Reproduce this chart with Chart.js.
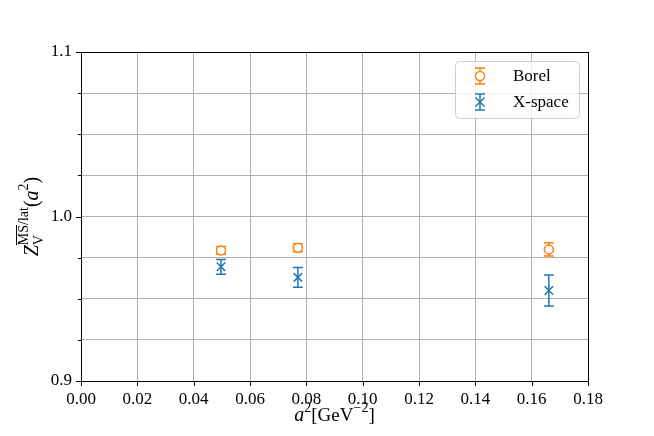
<!DOCTYPE html>
<html>
<head>
<meta charset="utf-8">
<script src="https://cdn.jsdelivr.net/npm/chart.js@4/dist/chart.umd.min.js"></script>
<style>
  html, body { margin: 0; padding: 0; background: #fff; }
</style>
</head>
<body>
<canvas id="myChart" width="654" height="436"></canvas>
<script>
// values
const a2 = [0.0497, 0.077, 0.1661];
const borel = [0.9794, 0.9810, 0.9800];
const borelErr = [0.0024, 0.0024, 0.0040];
const xspace = [0.9694, 0.9630, 0.9550];
const xspaceErr = [0.0045, 0.0060, 0.0094];
const seriesNames = ['Borel', 'X-space'];

const xTicks = [0, 0.02, 0.04, 0.06, 0.08, 0.10, 0.12, 0.14, 0.16, 0.18];
const yTicks = [0.9, 0.925, 0.95, 0.975, 1.0, 1.025, 1.05, 1.075, 1.1];
const yMajor = [0.9, 1.0, 1.1];

const orange = '#ff7f0e';
const blue = '#1f77b4';
const serif = "'Liberation Serif', 'DejaVu Serif', serif";

function isMajor(v) {
    return yMajor.some(m => Math.abs(m - v) < 1e-9);
}

// error bars, drawn under the markers
const errorBars = {
    id: 'errorBars',
    beforeDatasetsDraw(chart) {
        const ctx = chart.ctx;
        const xs = chart.scales.x, ys = chart.scales.y;
        chart.data.datasets.forEach(ds => {
            ctx.save();
            ctx.strokeStyle = ds.borderColor;
            ctx.lineWidth = 1.5;
            ds.data.forEach((p, i) => {
                const px = xs.getPixelForValue(p.x);
                const top = ys.getPixelForValue(p.y + ds.errors[i]);
                const bot = ys.getPixelForValue(p.y - ds.errors[i]);
                ctx.beginPath();
                ctx.moveTo(px, top); ctx.lineTo(px, bot);
                ctx.moveTo(px - 5, top); ctx.lineTo(px + 5, top);
                ctx.moveTo(px - 5, bot); ctx.lineTo(px + 5, bot);
                ctx.stroke();
            });
            ctx.restore();
        });
    }
};

function textW(ctx, t, f) { ctx.font = f; return ctx.measureText(t).width; }

const decorations = {
    id: 'decorations',
    afterDraw(chart) {
        const ctx = chart.ctx;
        const area = chart.chartArea;
        const xs = chart.scales.x, ys = chart.scales.y;
        ctx.save();
        ctx.strokeStyle = '#000';
        ctx.lineWidth = 1;
        ctx.strokeRect(Math.round(area.left) + 0.5, Math.round(area.top) + 0.5,
            Math.round(area.right - area.left), Math.round(area.bottom - area.top));
        ctx.beginPath();
        xTicks.forEach(v => {
            const px = Math.round(xs.getPixelForValue(v)) + 0.5;
            ctx.moveTo(px, area.bottom); ctx.lineTo(px, area.bottom + 5);
        });
        yTicks.forEach(v => {
            const py = Math.round(ys.getPixelForValue(v)) + 0.5;
            const len = isMajor(v) ? 5 : 3;
            ctx.moveTo(area.left, py); ctx.lineTo(area.left - len, py);
        });
        ctx.stroke();

        const big = '20px ' + serif, bigI = 'italic 20px ' + serif;
        const mid = '19px ' + serif, small = '14px ' + serif;
        ctx.fillStyle = '#000';
        ctx.textBaseline = 'alphabetic';
        ctx.textAlign = 'left';

        // x title: a^2 [GeV^-2]
        const xParts = [['a', bigI, 0], ['2', small, -9], ['[GeV', mid, 0], ['\u22122', small, -9], [']', mid, 0]];
        let tot = xParts.reduce((s, p) => s + textW(ctx, p[0], p[1]), 0);
        let cx = (area.left + area.right) / 2 - tot / 2;
        xParts.forEach(p => {
            ctx.font = p[1];
            ctx.fillText(p[0], cx, 421 + p[2]);
            cx += ctx.measureText(p[0]).width;
        });

        // y title (rotated): Z_V^{MS-bar/lat}(a^2)
        ctx.save();
        ctx.translate(38, (area.top + area.bottom) / 2);
        ctx.rotate(-Math.PI / 2);
        const wZ = textW(ctx, 'Z', bigI);
        const wV = textW(ctx, 'V', small);
        const wMS = textW(ctx, 'MS', small);
        const wSup = textW(ctx, 'MS/lat', small);
        const wTail = textW(ctx, '(', big) + textW(ctx, 'a', bigI) + textW(ctx, '2', small) + textW(ctx, ')', big);
        const total = wZ + Math.max(wV, wSup) + wTail;
        let x = -total / 2;
        ctx.font = bigI; ctx.fillText('Z', x, 0); x += wZ;
        ctx.font = small; ctx.fillText('V', x, 5);
        ctx.fillText('MS/lat', x, -10);
        ctx.lineWidth = 1;
        ctx.beginPath();
        ctx.moveTo(x, -21.5); ctx.lineTo(x + wMS, -21.5);
        ctx.stroke();
        x += Math.max(wV, wSup);
        ctx.font = big; ctx.fillText('(', x, 0); x += textW(ctx, '(', big);
        ctx.font = bigI; ctx.fillText('a', x, 0); x += textW(ctx, 'a', bigI);
        ctx.font = small; ctx.fillText('2', x, -10); x += textW(ctx, '2', small);
        ctx.font = big; ctx.fillText(')', x, 0);
        ctx.restore();

        ctx.restore();
    }
};

// custom legend box
const legendBox = {
    id: 'legendBox',
    afterDraw(chart) {
        const ctx = chart.ctx;
        ctx.save();
        const bx = 455, by = 61, bw = 124, bh = 57;
        ctx.fillStyle = 'rgba(255,255,255,0.8)';
        ctx.strokeStyle = '#d0d0d0';
        ctx.lineWidth = 1;
        ctx.beginPath();
        ctx.roundRect(bx + 0.5, by + 0.5, bw, bh, 4);
        ctx.fill();
        ctx.stroke();
        chart.data.datasets.forEach((ds, i) => {
            const cy = 76 + i * 26;
            const mx = 480;
            ctx.strokeStyle = ds.borderColor;
            ctx.lineWidth = 1.5;
            ctx.beginPath();
            ctx.moveTo(mx, cy - 8); ctx.lineTo(mx, cy + 8);
            ctx.moveTo(mx - 5, cy - 8); ctx.lineTo(mx + 5, cy - 8);
            ctx.moveTo(mx - 5, cy + 8); ctx.lineTo(mx + 5, cy + 8);
            ctx.stroke();
            ctx.beginPath();
            if (ds.pointStyle === 'circle') {
                ctx.fillStyle = '#fff';
                ctx.arc(mx, cy, 4.5, 0, Math.PI * 2);
                ctx.fill();
                ctx.stroke();
            } else {
                ctx.moveTo(mx - 4.5, cy - 4.5); ctx.lineTo(mx + 4.5, cy + 4.5);
                ctx.moveTo(mx - 4.5, cy + 4.5); ctx.lineTo(mx + 4.5, cy - 4.5);
                ctx.stroke();
            }
            ctx.fillStyle = '#000';
            ctx.font = '17px ' + serif;
            ctx.textBaseline = 'middle';
            ctx.fillText(ds.label, 513, cy + 1);
        });
        ctx.restore();
    }
};

const ctx = document.querySelector('#myChart').getContext('2d');
const myChart = new Chart(ctx, {
    type: 'scatter',
    data: {
        datasets: [
            {
                label: seriesNames[0],
                data: a2.map((x, i) => ({ x: x, y: borel[i] })),
                errors: borelErr,
                pointStyle: 'circle',
                pointRadius: 4.5,
                borderColor: orange,
                backgroundColor: 'rgba(255,255,255,1)',
                borderWidth: 1.5
            },
            {
                label: seriesNames[1],
                data: a2.map((x, i) => ({ x: x, y: xspace[i] })),
                errors: xspaceErr,
                pointStyle: 'crossRot',
                pointRadius: 6,
                borderColor: blue,
                backgroundColor: blue,
                borderWidth: 1.5
            }
        ]
    },
    options: {
        responsive: false,
        animation: false,
        layout: { padding: { top: 52, right: 66, left: 0, bottom: 0 } },
        plugins: { legend: { display: false }, tooltip: { enabled: false } },
        scales: {
            x: {
                type: 'linear',
                min: 0, max: 0.18,
                afterBuildTicks: s => { s.ticks = xTicks.map(v => ({ value: v })); },
                afterFit: s => { s.height = 55; },
                border: { display: false },
                grid: { color: '#b0b0b0', lineWidth: 1, drawTicks: false },
                ticks: {
                    padding: 8,
                    color: '#000',
                    font: { family: serif, size: 17 },
                    maxRotation: 0,
                    callback: v => v.toFixed(2)
                }
            },
            y: {
                type: 'linear',
                min: 0.9, max: 1.1,
                afterBuildTicks: s => { s.ticks = yTicks.map(v => ({ value: v })); },
                afterFit: s => { s.width = 81; },
                border: { display: false },
                grid: { color: '#b0b0b0', lineWidth: 1, drawTicks: false },
                ticks: {
                    padding: 9,
                    color: '#000',
                    font: { family: serif, size: 17 },
                    callback: v => isMajor(v) ? v.toFixed(1) : ''
                }
            }
        }
    },
    plugins: [errorBars, decorations, legendBox]
});
</script>
</body>
</html>
